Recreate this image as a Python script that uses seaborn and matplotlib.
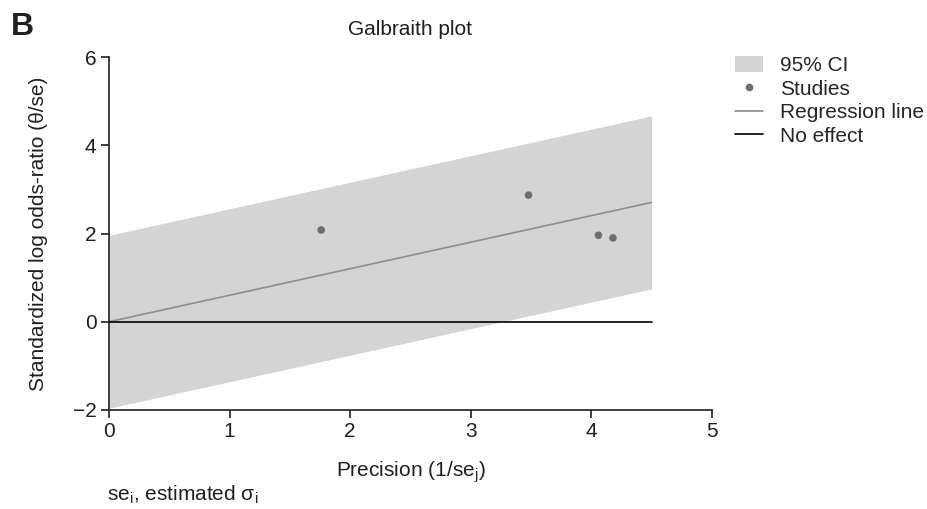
import numpy as np
import pandas as pd
import matplotlib
matplotlib.use("Agg")
import matplotlib.pyplot as plt
import seaborn as sns
from matplotlib.patches import Patch
from matplotlib.lines import Line2D

sns.set_theme(style="ticks")
plt.rcParams["font.family"] = ["Liberation Sans", "DejaVu Sans"]
plt.rcParams["mathtext.fontset"] = "custom"
plt.rcParams["mathtext.rm"] = "Liberation Sans"
plt.rcParams["mathtext.it"] = "Liberation Sans:italic"

# Galbraith-Daten: Präzision (1/se) und standardisierter Effekt (theta/se)
precision = [1.76, 3.48, 4.06, 4.18]
z_score = [2.08, 2.87, 1.96, 1.90]
x_max_line = 4.5
ci_half_width = 1.96

BAND_COLOR = "#d3d4d6"
POINT_COLOR = "#6d6e70"
REG_COLOR = "#8e8e8e"
TEXT_COLOR = "#231f20"
FS = 15

df = pd.DataFrame({"precision": precision, "z": z_score})

# Regression durch den Ursprung
slope = (df["precision"] * df["z"]).sum() / (df["precision"] ** 2).sum()
line_df = pd.DataFrame({"x": [0, x_max_line]})
line_df["fit"] = slope * line_df["x"]
line_df["null"] = 0.0

fig = plt.figure(figsize=(9.28, 5.09), dpi=100)
ax = fig.add_axes([0.1175, 0.1945, 0.6495, 0.6935])

ax.fill_between(line_df["x"], line_df["fit"] - ci_half_width,
                line_df["fit"] + ci_half_width, color=BAND_COLOR, lw=0, zorder=1)
sns.lineplot(data=line_df, x="x", y="fit", color=REG_COLOR, lw=1.2, ax=ax, zorder=2)
sns.lineplot(data=line_df, x="x", y="null", color="black", lw=1.2, ax=ax, zorder=3)
sns.scatterplot(data=df, x="precision", y="z", color=POINT_COLOR, s=30,
                edgecolor="none", ax=ax, zorder=4)

ax.set_xlim(0, 5)
ax.set_ylim(-2, 6)
ax.set_xticks([0, 1, 2, 3, 4, 5])
ax.set_yticks([-2, 0, 2, 4, 6])
ax.spines["top"].set_visible(False)
ax.spines["right"].set_visible(False)
for s in ["left", "bottom"]:
    ax.spines[s].set_linewidth(1.2)
    ax.spines[s].set_color(TEXT_COLOR)
ax.tick_params(axis="both", labelsize=FS, length=6, width=1.2, color=TEXT_COLOR,
               labelcolor=TEXT_COLOR, direction="out", pad=3)
ax.set_xlabel(r"Precision (1/se$_\mathrm{j}$)", fontsize=FS, color=TEXT_COLOR, labelpad=13)
ax.set_ylabel("Standardized log odds-ratio (θ/se)", fontsize=FS, color=TEXT_COLOR, labelpad=18)
ax.set_title("Galbraith plot", fontsize=FS, color=TEXT_COLOR, pad=16)

fig.text(0.012, 0.931, "B", fontsize=23, fontweight="bold", color=TEXT_COLOR)
fig.text(0.115, 0.016, r"se$_\mathrm{i}$, estimated σ$_\mathrm{i}$", fontsize=FS,
         color=TEXT_COLOR)

handles = [
    Patch(facecolor=BAND_COLOR, edgecolor="none", label="95% CI"),
    Line2D([], [], ls="none", marker="o", ms=4.5, color=POINT_COLOR, label="Studies"),
    Line2D([], [], color=REG_COLOR, lw=1.2, label="Regression line"),
    Line2D([], [], color="black", lw=1.2, label="No effect"),
]
fig.legend(handles=handles, loc="upper left", bbox_to_anchor=(0.792, 0.89),
           frameon=False, fontsize=FS, handlelength=1.35, handletextpad=0.82,
           handleheight=0.77, labelspacing=0.22, borderaxespad=0, borderpad=0)

fig.savefig("out.png", dpi=100)
plt.close(fig)
